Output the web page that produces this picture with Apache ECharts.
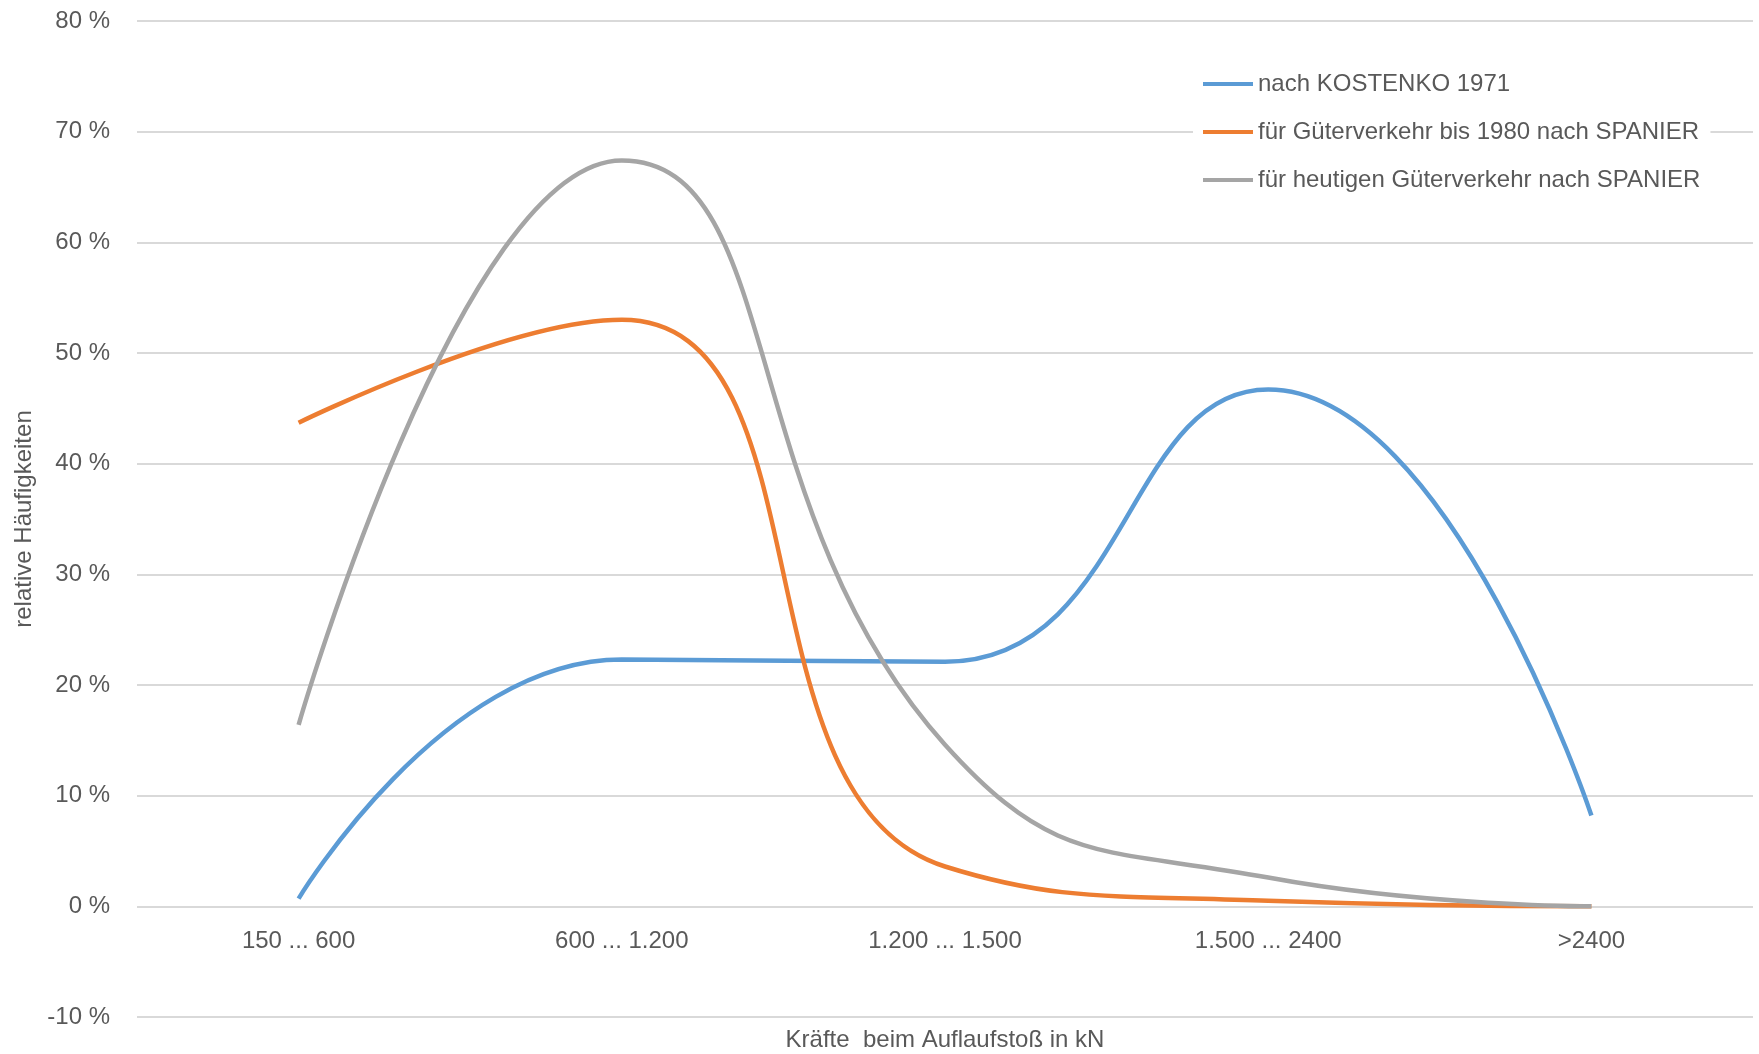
<!DOCTYPE html>
<html>
<head>
<meta charset="utf-8">
<script src="https://cdn.jsdelivr.net/npm/echarts@6/dist/echarts.min.js"></script>
<style>
html,body{margin:0;padding:0;background:#fff;}
#c{width:1759px;height:1054px;}
</style>
</head>
<body>
<div id="c"></div>
<script>
const categories = ['150 ... 600', '600 ... 1.200', '1.200 ... 1.500', '1.500 ... 2400', '>2400'];
const seriesNames = ['nach KOSTENKO 1971', 'für Güterverkehr bis 1980 nach SPANIER', 'für heutigen Güterverkehr nach SPANIER'];
const kostenko = [0.7, 22.3, 22.1, 46.7, 8.2];
const spanier1980 = [43.7, 53.0, 3.6, 0.5, 0.0];
const spanierHeute = [16.4, 67.4, 14.6, 2.6, 0.0];
const yTicks = { min: -10, max: 80, interval: 10 };

const FONT = '"Liberation Sans Narrow", "Arial Narrow", "Liberation Sans", Arial, sans-serif';
const TXT = '#595959';
const colors = ['#5B9BD5', '#ED7D31', '#A5A5A5'];

const chart = echarts.init(document.getElementById('c'));
chart.setOption({
  animation: false,
  backgroundColor: '#fff',
  color: colors,
  textStyle: { fontFamily: FONT, color: TXT },
  grid: { left: 137, right: 6, top: 21, bottom: 37, containLabel: false, outerBoundsMode: 'none' },
  legend: {
    orient: 'vertical',
    left: 1193,
    top: 66,
    backgroundColor: '#fff',
    padding: [6, 10, 6, 10],
    itemWidth: 50,
    itemHeight: 4,
    itemGap: 24,
    icon: 'rect',
    textStyle: { fontFamily: FONT, fontSize: 24, color: TXT },
    data: seriesNames
  },
  xAxis: {
    type: 'category',
    data: categories,
    boundaryGap: true,
    axisLine: { show: false },
    axisTick: { show: false },
    axisLabel: { fontFamily: FONT, fontSize: 24, color: TXT, margin: -88 },
    name: 'Kräfte  beim Auflaufstoß in kN',
    nameLocation: 'middle',
    nameGap: 11,
    nameTextStyle: { fontFamily: FONT, fontSize: 24, color: TXT }
  },
  yAxis: {
    type: 'value',
    min: yTicks.min,
    max: yTicks.max,
    interval: yTicks.interval,
    axisLine: { show: false },
    axisTick: { show: false },
    splitLine: { lineStyle: { color: '#D9D9D9', width: 2 } },
    axisLabel: { fontFamily: FONT, fontSize: 24, color: TXT, margin: 27, formatter: '{value} %' },
    name: 'relative Häufigkeiten',
    nameLocation: 'middle',
    nameGap: 100,
    nameTextStyle: { fontFamily: FONT, fontSize: 24, color: TXT }
  },
  series: [
    { name: seriesNames[0], type: 'line', smooth: 0.5, symbol: 'none', data: kostenko, lineStyle: { width: 4.5 } },
    { name: seriesNames[1], type: 'line', smooth: 0.5, symbol: 'none', data: spanier1980, lineStyle: { width: 4.5 } },
    { name: seriesNames[2], type: 'line', smooth: 0.5, symbol: 'none', data: spanierHeute, lineStyle: { width: 4.5 } }
  ]
});
</script>
</body>
</html>
